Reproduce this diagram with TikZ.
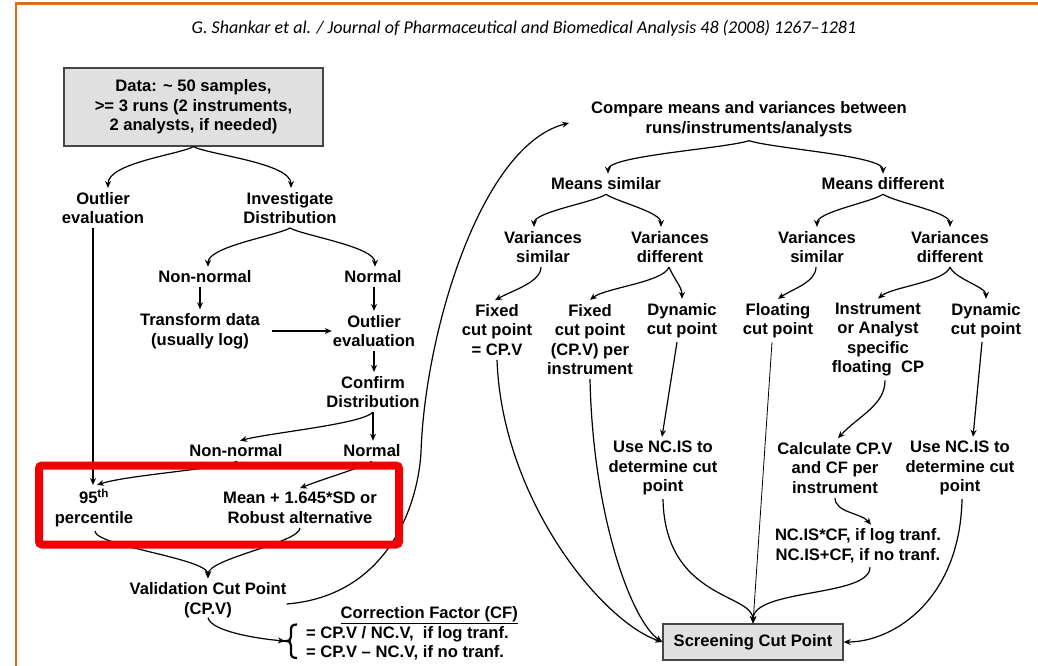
\documentclass[tikz,border=0pt]{standalone}
\usepackage{fontspec}
\setmainfont{Liberation Sans}
\newfontfamily\hdrfont{Carlito}
\usetikzlibrary{arrows.meta,calc}
\definecolor{frameor}{RGB}{214,112,30}
\definecolor{boxgray}{RGB}{224,224,224}
\definecolor{boxline}{RGB}{70,70,70}
\definecolor{redbox}{RGB}{240,0,0}
\begin{document}
\begin{tikzpicture}[x=1pt,y=-1pt,
  every node/.style={font=\fontsize{16.6}{19.5}\selectfont\bfseries, inner sep=4pt, align=center},
  conn/.style={line width=1.2pt, -{Stealth[length=7pt,width=6pt]}},
  graybox/.style={draw=boxline, fill=boxgray, line width=1.3pt},
]
\useasboundingbox (0,0) rectangle (1038,666);
\fill[white] (0,0) rectangle (1038,666);
\draw[frameor, line width=2.2pt] (16,668) -- (16,3.5) -- (1040,3.5);

\node[font=\hdrfont\itshape\fontsize{18}{20}\selectfont, inner sep=0pt] (hdr) at (524,28)
  {G. Shankar et al. / Journal of Pharmaceutical and Biomedical Analysis 48 (2008) 1267–1281};

% ---------- left column ----------
\node[graybox, minimum width=259, minimum height=78] (data) at (193.5,107)
  {Data: \textasciitilde{} 50 samples,\\>= 3 runs (2 instruments,\\2 analysts, if needed)};
\node (outA) at (103,208) {Outlier\\evaluation};
\node (inv) at (290,208) {Investigate\\Distribution};
\node (nnA) at (205,277) {Non-normal};
\node (norA) at (373,277) {Normal};
\node (trans) at (200,331) {Transform data\\(usually log)};
\node (outB) at (374,331) {Outlier\\evaluation};
\node (conf) at (373,392) {Confirm\\Distribution};
\node (nnB) at (236,451) {Non-normal};
\node (norB) at (372,451) {Normal};
\node (pct) at (94,508) {95\textsuperscript{th}\\percentile};
\node (mean) at (300,508) {Mean + 1.645*SD or\\Robust alternative};
\node (cpv) at (208,600) {Validation Cut Point\\(CP.V)};
\node[anchor=east] (cfh) at (522,615) {\underline{Correction Factor (CF)}};
\node[anchor=west] (cfa) at (302,634) {= CP.V / NC.V,\ \ if log tranf.};
\node[anchor=west] (cfb) at (302,653) {= CP.V – NC.V, if no tranf.};
\coordinate (bracetip) at (285,641);
\draw[line width=2.2pt] (297,624.5) .. controls (292.5,624.5) and (291,626) .. (291,630) -- (291,636.5)
   .. controls (291,639.5) and (289.5,641) .. (286,641) .. controls (289.5,641) and (291,642.5) .. (291,645.5)
   -- (291,652.5) .. controls (291,656.5) and (292.5,658) .. (297,658);

% ---------- right column ----------
\node (cmp) at (749,119) {Compare means and variances between\\runs/instruments/analysts};
\node (msim) at (606,184) {Means similar};
\node (mdif) at (883,184) {Means different};
\node (vsA) at (543,247) {Variances\\similar};
\node (vdA) at (670,247) {Variances\\different};
\node (vsB) at (817,247) {Variances\\similar};
\node (vdB) at (950,247) {Variances\\different};
\node (fixA) at (497,330) {Fixed\\cut point\\= CP.V};
\node (fixB) at (590,339.5) {Fixed\\cut point\\(CP.V) per\\instrument};
\node (dynA) at (682,320.5) {Dynamic\\cut point};
\node (flt) at (778,320.5) {Floating\\cut point};
\node (inst) at (878,339.5) {Instrument\\or Analyst\\specific\\floating\ \ CP};
\node (dynB) at (986,320.5) {Dynamic\\cut point};
\node (ncA) at (663,468) {Use NC.IS to\\determine cut\\point};
\node (calc) at (835,468) {Calculate CP.V\\and CF per\\instrument};
\node (ncB) at (960,468) {Use NC.IS to\\determine cut\\point};
\node (ncf) at (858,546) {NC.IS*CF, if log tranf.\\NC.IS+CF, if no tranf.};
\node[graybox, minimum width=180, minimum height=36, inner sep=2pt] (scp) at (753,642) {Screening Cut Point};
\coordinate (bend) at (421,452);

% ---------- connectors, left ----------
\draw[conn] (data.south) .. controls +(-15,8) and +(0,-25) .. ([xshift=5pt]outA.north);
\draw[conn] (data.south) .. controls +(15,8) and +(0,-25) .. ([xshift=1pt]inv.north);
\draw[conn] ([xshift=-10pt]outA.south) -- ([xshift=-1pt]pct.north);
\draw[conn] (inv.south) .. controls +(-15,8) and +(0,-20) .. ([xshift=3pt]nnA.north);
\draw[conn] (inv.south) .. controls +(15,8) and +(0,-20) .. ([xshift=2pt]norA.north);
\draw[conn] (nnA.south -| trans.north) -- (trans.north);
\draw[conn] (norA.south -| outB.north) -- (outB.north);
\draw[conn] ([xshift=8pt]trans.east) -- ([xshift=3pt]outB.west);
\draw[conn] (outB.south) -- (outB.south |- conf.north);
\draw[conn] (conf.south) .. controls +(-10,12) and +(30,-8) .. ([xshift=4pt]nnB.north);
\draw[conn] (conf.south) -- (conf.south |- norB.north);
\draw[conn] ([xshift=1pt]nnB.south) .. controls +(-20,8) and +(30,-10) .. ([xshift=3pt]pct.north);
\draw[conn] (norB.south) .. controls +(-15,8) and +(25,-10) .. (mean.north);
\draw[conn] ([xshift=1pt]pct.south) .. controls +(0,15) and +(0,-20) .. (cpv.north);
\draw[conn] (mean.south) .. controls +(0,15) and +(0,-20) .. (cpv.north);
\draw[conn] ($(cpv.east)+(-4,4)$) .. controls +(100,-8) and +(-3,55) .. (bend)
   .. controls +(4,-120) and +(-88,22) .. ($(cmp.west)+(-18,4)$);
\draw[conn] ([yshift=4pt]cpv.south) .. controls +(3,14) and +(-25,-2) .. (bracetip);

% ---------- connectors, right ----------
\draw[conn] (cmp.south) .. controls +(-25,8) and +(0,-18) .. ([xshift=2pt]msim.north);
\draw[conn] (cmp.south) .. controls +(25,8) and +(0,-18) .. (mdif.north);
\draw[conn] (msim.south) .. controls +(-12,8) and +(0,-15) .. ([xshift=-9pt]vsA.north);
\draw[conn] (msim.south) .. controls +(12,8) and +(0,-15) .. ([xshift=-9pt]vdA.north);
\draw[conn] (mdif.south) .. controls +(-12,8) and +(0,-15) .. (vsB.north);
\draw[conn] (mdif.south) .. controls +(12,8) and +(0,-15) .. (vdB.north);
\draw[conn] ([xshift=-2pt]vsA.south) .. controls +(0,15) and +(18,-10) .. ([xshift=-2pt]fixA.north);
\draw[conn] ([xshift=-1pt]vdA.south) .. controls +(-5,15) and +(15,-12) .. (fixB.north);
\draw[conn] ([xshift=-1pt]vdA.south) .. controls +(5,12) and +(0,-12) .. (dynA.north);
\draw[conn] ([xshift=-1pt]vsB.south) .. controls +(0,15) and +(15,-10) .. (flt.north);
\draw[conn] (vdB.south) .. controls +(-5,15) and +(15,-12) .. (inst.north);
\draw[conn] (vdB.south) .. controls +(5,12) and +(0,-12) .. (dynB.north);
\draw[conn] ([xshift=-5pt]dynA.south) -- ([xshift=-1pt]ncA.north);
\draw[conn] ([xshift=7pt]inst.south) .. controls +(0,25) and +(20,-22) .. ([xshift=3pt]calc.north);
\draw[conn] ([xshift=-4pt]dynB.south) -- ([xshift=13pt]ncB.north);
\draw[conn] (calc.south) .. controls +(0,15) and +(-10,-12) .. ([xshift=13pt]ncf.north);
\draw[conn] (fixA.south) .. controls +(5,140) and +(-60,-20) .. (scp.west);
\draw[conn] (fixB.south) .. controls +(3,140) and +(-30,-20) .. (scp.west);
\draw[conn] (ncA.south) .. controls +(2,100) and +(0,-30) .. (scp.north);
\draw[conn, line width=0.8pt] ([xshift=-6pt]flt.south) -- (scp.north);
\draw[conn] ([xshift=12pt]ncf.south) .. controls +(0,30) and +(0,-35) .. (scp.north);
\draw[conn] ([xshift=2pt]ncB.south) .. controls +(-2,100) and +(50,0) .. (scp.east);

% ---------- highlight ----------
\draw[redbox, line width=8pt, rounded corners=3pt] (39,465.5) rectangle (399,544.5);
\end{tikzpicture}
\end{document}
